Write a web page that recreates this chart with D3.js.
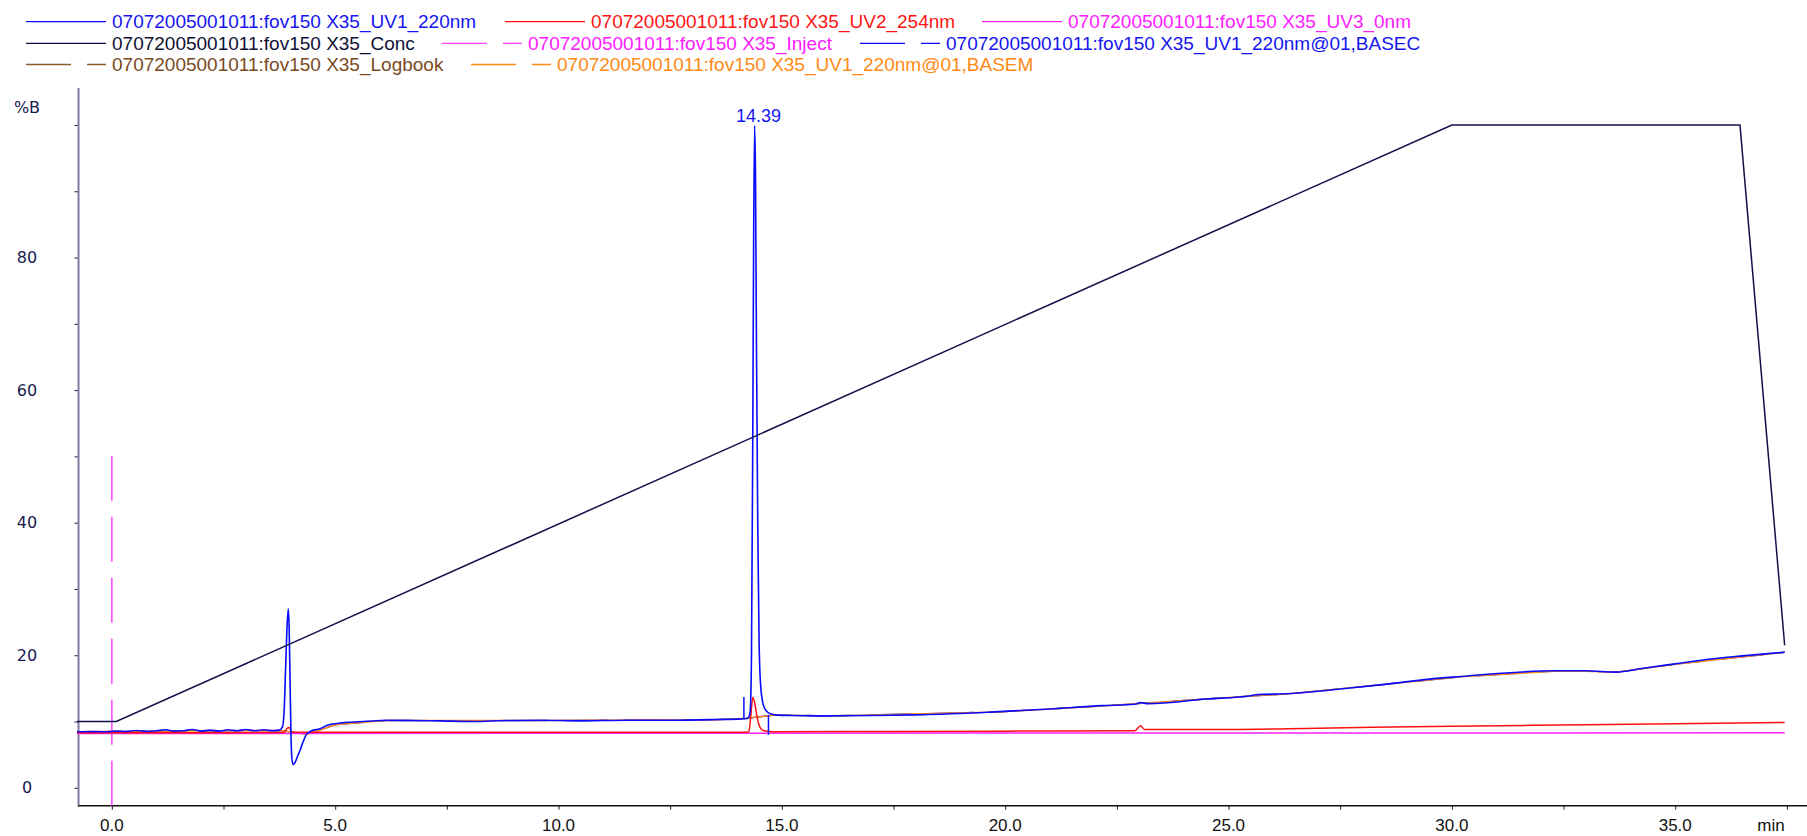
<!DOCTYPE html>
<html>
<head>
<meta charset="utf-8">
<script src="https://cdn.jsdelivr.net/npm/d3@7/dist/d3.min.js"></script>
<style>
  html, body { margin: 0; padding: 0; background: #fff; }
  svg { display: block; }
</style>
</head>
<body>
<svg id="chart" width="1807" height="836"></svg>
<script>
// ---------------- DATA ----------------
const xTickValues = [0, 5, 10, 15, 20, 25, 30, 35];
const xMinorTickValues = [2.5, 7.5, 12.5, 17.5, 22.5, 27.5, 32.5, 37.5];
const yTickValues = [0, 20, 40, 60, 80];
const yMinorTickValues = [10, 30, 50, 70, 90, 100];
const xUnitLabel = "min";
const yUnitLabel = "%B";

const seriesNames = [
  "07072005001011:fov150 X35_UV1_220nm",
  "07072005001011:fov150 X35_UV2_254nm",
  "07072005001011:fov150 X35_UV3_0nm",
  "07072005001011:fov150 X35_Conc",
  "07072005001011:fov150 X35_Inject",
  "07072005001011:fov150 X35_UV1_220nm@01,BASEC",
  "07072005001011:fov150 X35_Logbook",
  "07072005001011:fov150 X35_UV1_220nm@01,BASEM"
];

// UV1 220 nm trace  [time (min), value]
const uv1Time = [-0.78,-0.5,-0.2,0.1,0.3,0.55,0.8,1.0,1.2,1.4,1.6,1.8,2.0,2.2,2.4,2.6,2.8,3.0,3.2,3.4,3.6,3.75,
  3.82,3.86,3.89,3.92,3.95,3.97,3.99,4.01,4.03,4.06,4.10,4.16,4.21,4.28,4.36,4.47,4.66,4.81,5.03,5.33,5.63,
  6.15,6.8,7.34,8.09,8.8,9.58,10.5,11.5,12.5,13.5,14.1,14.24,14.29,14.32,14.35,14.37,14.39,14.41,14.43,14.46,
  14.49,14.53,14.60,14.70,14.85,15.2,16,17,18,19,19.87,21,22.17,22.9,23.03,23.2,24.5,25.5,25.6,26.31,27.5,
  28.5,29.5,30.22,31.38,32.3,32.99,33.68,34.25,35.0,35.75,36.5,37.45];
const uv1Value = [8.45,8.5,8.45,8.55,8.5,8.65,8.5,8.6,8.75,8.55,8.6,8.8,8.55,8.7,8.55,8.75,8.6,8.8,8.6,8.75,8.6,8.7,
  9.2,12,18,24,27,24,16,8,4.5,3.5,3.8,4.8,5.6,6.9,8.1,8.6,8.9,9.4,9.7,9.9,10.0,
  10.2,10.15,10.1,10.0,10.15,10.2,10.1,10.2,10.2,10.3,10.4,10.5,11.5,20,55,85,99.9,92,68,40,
  22,15,12.2,11.3,11.0,10.9,10.85,10.9,11.0,11.2,11.5,11.9,12.4,12.6,12.85,12.7,13.4,13.9,14.05,14.2,14.9,
  15.6,16.4,16.8,17.4,17.65,17.65,17.45,18.0,18.7,19.4,19.9,20.45];

// UV2 254 nm trace
const uv2Time = [-0.78,1.0,2.5,3.85,3.93,3.98,4.02,6,9,12,14.2,14.26,14.30,14.35,14.40,14.45,14.52,14.6,14.8,17,
  20,22.9,23.03,23.12,25,27,30,33,35,37.45];
const uv2Value = [8.3,8.3,8.32,8.35,9.0,9.1,8.4,8.38,8.4,8.4,8.4,8.45,10.5,13.65,12.5,10.5,9.0,8.6,8.45,8.5,
  8.55,8.6,9.35,8.8,8.8,9.0,9.3,9.5,9.65,9.85];

// UV3 0 nm trace
const uv3Time = [-0.78, 10, 20, 30, 37.45];
const uv3Value = [8.2, 8.22, 8.25, 8.28, 8.3];

// Gradient concentration (%B)
const concTime = [-0.78, 0.1, 30.0, 36.45, 37.45];
const concValue = [10, 10, 100, 100, 21.5];

// Injection marker
const injectTime = [0, 0];
const injectValue = [-2.7, 50.7];

// Integration baselines (BASEM / BASEC)
const baseTime = [-0.78,3.75,4.36,5.03,6.15,9.58,13.5,14.24,14.85,16,19.87,22.17,25.5,26.31,30.22,32.3,32.99,33.68,35.0,37.45];
const baseValue = [8.45,8.65,8.1,9.55,10.15,10.15,10.25,10.5,11.0,10.85,11.45,12.35,13.85,14.15,16.75,17.6,17.6,17.45,18.65,20.45];

// Peak start/end drop marks [time, from, to]
const peakMarkTime = [14.15, 14.70];
const peakMarkFrom = [10.4, 11.0];
const peakMarkTo = [13.7, 8.0];

// Peak label
const peakLabelTime = 14.39;
const peakLabelValue = 99.9;
const peakLabelText = "14.39";

// ---------------- STYLES / LAYOUT ----------------
(function () {
const colors = {
  uv1: "#0a0aff", uv2: "#ff1010", uv3: "#ff20ff", conc: "#10104a",
  inject: "#ff40ff", basec: "#0a0aff", logbook: "#8b5a2b", basem: "#ff8c10"
};
const legendText = ["#1515f0", "#ff1515", "#ff20ff", "#101035", "#ff20ff", "#1515f0", "#7a4a1e", "#ff8a15"];
const legendLine = [colors.uv1, colors.uv2, colors.uv3, colors.conc, colors.inject, colors.basec, colors.logbook, colors.basem];
const legendDash = [null, null, null, null, "45,16", "45,16", "45,16", "45,16"];
const legendPos = [[112, 21.7], [591, 21.7], [1068, 21.7], [112, 43.3], [528, 43.3], [946, 43.3], [112, 64.5], [557, 64.5]];

const svg = d3.select("#chart");
const pLeft = 78.5, pRight = 1807, pTop = 88, pBottom = 805.7;

const x = d3.scaleLinear().domain([-0.78, 37.95]).range([77, 1807]);
const y = d3.scaleLinear().domain([-2.7, 104.9]).range([805.7, 92.5]);

// ---------------- LEGEND ----------------
const leg = svg.append("g").attr("class", "legend");
seriesNames.forEach((name, i) => {
  const [tx, ty] = legendPos[i];
  leg.append("line")
    .attr("x1", tx - 86).attr("x2", tx - 6)
    .attr("y1", ty).attr("y2", ty)
    .attr("stroke", legendLine[i]).attr("stroke-width", 1.3)
    .attr("stroke-dasharray", legendDash[i]);
  leg.append("text")
    .attr("x", tx).attr("y", ty)
    .attr("dominant-baseline", "central")
    .attr("font-family", "'Liberation Sans', Arial, sans-serif")
    .attr("font-size", 19)
    .attr("fill", legendText[i])
    .text(name);
});

// ---------------- AXES ----------------
const yAxis = d3.axisLeft(y).tickValues(yTickValues.concat(yMinorTickValues)).tickSize(4).tickFormat("");
const gy = svg.append("g").attr("transform", `translate(${pLeft},0)`).call(yAxis);
gy.select(".domain").remove();
gy.selectAll(".tick line").attr("stroke", "#1a1a50").attr("stroke-width", 1);
svg.append("line").attr("x1", pLeft).attr("x2", pLeft).attr("y1", pTop).attr("y2", pBottom + 1)
  .attr("stroke", "#7a7aa2").attr("stroke-width", 2);
svg.append("g").selectAll("text").data(yTickValues).join("text")
  .attr("x", 27).attr("y", d => y(d))
  .attr("text-anchor", "middle").attr("dominant-baseline", "central")
  .attr("font-family", "'DejaVu Sans', Verdana, sans-serif").attr("font-size", 16)
  .attr("fill", "#1a1a50").text(d => d);
svg.append("text").attr("x", 27).attr("y", 107.5)
  .attr("text-anchor", "middle").attr("dominant-baseline", "central")
  .attr("font-family", "'DejaVu Sans', Verdana, sans-serif").attr("font-size", 16)
  .attr("fill", "#1a1a50").text(yUnitLabel);

const xAxis = d3.axisBottom(x).tickValues(xTickValues.concat(xMinorTickValues)).tickSize(4).tickFormat("");
const gx = svg.append("g").attr("transform", `translate(0,${pBottom})`).call(xAxis);
gx.select(".domain").remove();
gx.selectAll(".tick line").attr("stroke", "#222").attr("stroke-width", 1);
svg.append("line").attr("x1", pLeft).attr("x2", pRight).attr("y1", pBottom).attr("y2", pBottom)
  .attr("stroke", "#111").attr("stroke-width", 1.5);
svg.append("g").selectAll("text").data(xTickValues).join("text")
  .attr("x", d => x(d)).attr("y", 825.5)
  .attr("text-anchor", "middle").attr("dominant-baseline", "central")
  .attr("font-family", "'Liberation Sans', Arial, sans-serif").attr("font-size", 17)
  .attr("fill", "#111").text(d => d.toFixed(1));
svg.append("text").attr("x", 1771).attr("y", 825.5)
  .attr("text-anchor", "middle").attr("dominant-baseline", "central")
  .attr("font-family", "'Liberation Sans', Arial, sans-serif").attr("font-size", 17)
  .attr("fill", "#111").text(xUnitLabel);

// ---------------- TRACES ----------------
const line = d3.line().x(d => x(d[0])).y(d => y(d[1]));
const smooth = d3.line().curve(d3.curveMonotoneX).x(d => x(d[0])).y(d => y(d[1]));
const zipPts = (t, v) => t.map((ti, i) => [ti, v[i]]);
const plot = svg.append("g");

plot.append("path").datum(zipPts(baseTime, baseValue)).attr("d", line)
  .attr("fill", "none").attr("stroke", colors.basec).attr("stroke-width", 1.3).attr("stroke-dasharray", "45,16");
plot.append("path").datum(zipPts(baseTime, baseValue)).attr("d", line)
  .attr("fill", "none").attr("stroke", colors.basem).attr("stroke-width", 1.5);

plot.append("path").datum(zipPts(injectTime, injectValue)).attr("d", line)
  .attr("fill", "none").attr("stroke", colors.inject).attr("stroke-width", 1.5).attr("stroke-dasharray", "45,16");

plot.append("path").datum(zipPts(uv3Time, uv3Value)).attr("d", line)
  .attr("fill", "none").attr("stroke", colors.uv3).attr("stroke-width", 1.5);
plot.append("path").datum(zipPts(uv2Time, uv2Value)).attr("d", smooth)
  .attr("fill", "none").attr("stroke", colors.uv2).attr("stroke-width", 1.5);
plot.append("path").datum(zipPts(uv1Time, uv1Value)).attr("d", smooth)
  .attr("fill", "none").attr("stroke", colors.uv1).attr("stroke-width", 1.6);

plot.selectAll("line.mark").data(peakMarkTime).join("line").attr("class", "mark")
  .attr("x1", d => x(d)).attr("x2", d => x(d))
  .attr("y1", (d, i) => y(peakMarkFrom[i])).attr("y2", (d, i) => y(peakMarkTo[i]))
  .attr("stroke", colors.basec).attr("stroke-width", 1.5);

plot.append("path").datum(zipPts(concTime, concValue)).attr("d", line)
  .attr("fill", "none").attr("stroke", colors.conc).attr("stroke-width", 1.5);

svg.append("text").attr("x", x(peakLabelTime) + 4).attr("y", y(peakLabelValue) - 10)
  .attr("text-anchor", "middle").attr("dominant-baseline", "central")
  .attr("font-family", "'Liberation Sans', Arial, sans-serif").attr("font-size", 18)
  .attr("fill", "#1515f5").text(peakLabelText);
})();
</script>
</body>
</html>
